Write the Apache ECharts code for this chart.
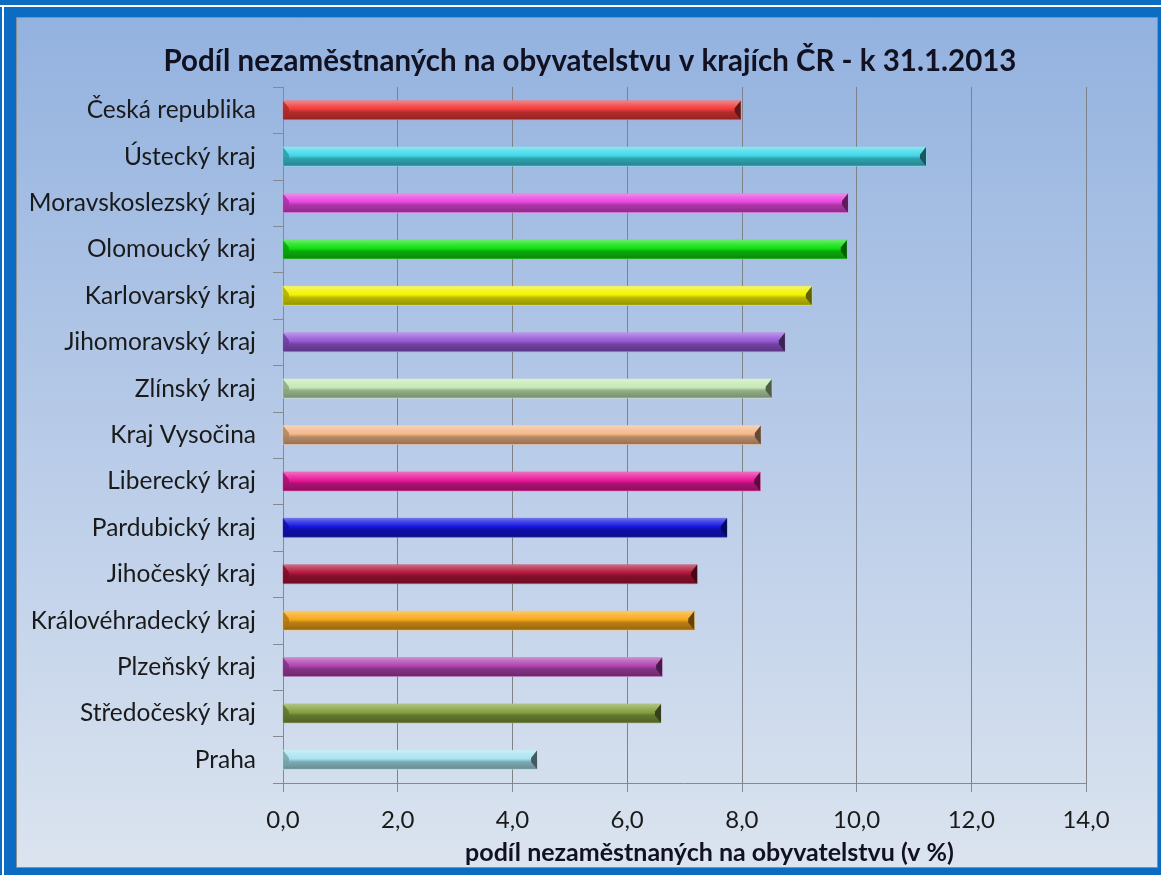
<!DOCTYPE html>
<html>
<head>
<meta charset="utf-8">
<script src="https://cdn.jsdelivr.net/npm/echarts@6/dist/echarts.min.js"></script>
<style>
  html, body { margin: 0; padding: 0; }
  #main { width: 1161px; height: 875px; }
</style>
</head>
<body>
<div id="main"></div>
<script>
// kraje (shora dolů) a podíl nezaměstnaných v %
const regions = [
  "Česká republika", "Ústecký kraj", "Moravskoslezský kraj", "Olomoucký kraj",
  "Karlovarský kraj", "Jihomoravský kraj", "Zlínský kraj", "Kraj Vysočina",
  "Liberecký kraj", "Pardubický kraj", "Jihočeský kraj", "Královéhradecký kraj",
  "Plzeňský kraj", "Středočeský kraj", "Praha"
];
const share = [7.98, 11.21, 9.85, 9.83, 9.22, 8.75, 8.52, 8.33, 8.32, 7.74, 7.22, 7.17, 6.61, 6.59, 4.43];
const xTicks = [0, 2, 4, 6, 8, 10, 12, 14];

const barColors = [
  "#f03a3a", "#3fd8e8", "#e846e0", "#10e010", "#f2f200", "#9658d8", "#c4e8b4", "#f4b888",
  "#e8189a", "#1414e0", "#b01438", "#f8a818", "#b044b0", "#84a040", "#a8e4f0"
];

function mix(hex, target, t) {
  const n = parseInt(hex.slice(1), 16);
  const r = (n >> 16) & 255, g = (n >> 8) & 255, b = n & 255;
  const m = c => Math.round(c + (target - c) * t);
  return "rgb(" + m(r) + "," + m(g) + "," + m(b) + ")";
}

const font = "Lato, 'Noto Sans', sans-serif";
const myChart = echarts.init(document.getElementById("main"));

const option = {
  backgroundColor: "#0b6cc1",
  textStyle: { fontFamily: font },
  graphic: [
    { type: "line", z: -10, shape: { x1: 0, y1: 6, x2: 1161, y2: 6 }, style: { stroke: "#ffffff", lineWidth: 2 } },
    { type: "line", z: -10, shape: { x1: 3, y1: 6, x2: 3, y2: 875 }, style: { stroke: "#ffffff", lineWidth: 2 } },
    {
      type: "rect", z: -10,
      shape: { x: 16.5, y: 17.5, width: 1141, height: 850 },
      style: {
        stroke: "#8a8f96", lineWidth: 1,
        fill: new echarts.graphic.LinearGradient(0, 0, 0, 1, [
          { offset: 0, color: "#93b2df" },
          { offset: 0.5, color: "#b8cbe8" },
          { offset: 1, color: "#dbe4ef" }
        ])
      }
    }
  ],
  title: {
    text: "Podíl nezaměstnaných na obyvatelstvu v krajích ČR - k 31.1.2013",
    left: 585, textAlign: "center", top: 41,
    textStyle: { fontFamily: font, fontSize: 29.5, fontWeight: "bold", color: "#111122" }
  },
  grid: { left: 283, right: 75, top: 87, bottom: 92 },
  xAxis: {
    type: "value", min: 0, max: 14, interval: 2,
    axisLine: { show: true, lineStyle: { color: "#858a90" } },
    axisTick: { show: true, length: 9, lineStyle: { color: "#858a90" } },
    splitLine: { show: true, lineStyle: { color: "#7f8388", width: 1 } },
    axisLabel: {
      margin: 25, fontSize: 24, color: "#1a1a1a", fontFamily: font,
      formatter: v => xTicks.includes(v) ? v.toFixed(1).replace(".", ",") : ""
    },
    name: "podíl nezaměstnaných na obyvatelstvu (v %)",
    nameLocation: "middle", nameGap: 57,
    nameTextStyle: { fontSize: 25, fontWeight: "bold", color: "#111122", fontFamily: font, padding: [0, 0, 0, 50] }
  },
  yAxis: {
    type: "category", inverse: true, data: regions,
    axisLine: { show: true, lineStyle: { color: "#858a90" } },
    axisTick: { show: true, length: 10, lineStyle: { color: "#858a90" } },
    axisLabel: { margin: 27, fontSize: 24.5, color: "#1a1a1a", fontFamily: font }
  },
  series: [
    {
      type: "custom",
      encode: { x: 0, y: 1 },
      data: share.map((v, i) => [v, i]),
      renderItem: function (params, api) {
        const idx = api.value(1);
        const p0 = api.coord([0, idx]);
        const p1 = api.coord([api.value(0), idx]);
        const h = 19;
        const x0 = p0[0], x1 = p1[0], y0 = p0[1] - h / 2, y1 = y0 + h;
        const base = barColors[idx % barColors.length];
        const w = 6;
        return {
          type: "group",
          children: [
            {
              type: "rect",
              shape: { x: x0, y: y0, width: x1 - x0, height: h },
              style: {
                fill: new echarts.graphic.LinearGradient(0, 0, 0, 1, [
                  { offset: 0, color: mix(base, 255, 0.4) },
                  { offset: 0.2, color: mix(base, 255, 0.2) },
                  { offset: 0.45, color: base },
                  { offset: 0.6, color: mix(base, 0, 0.25) },
                  { offset: 1, color: mix(base, 0, 0.4) }
                ]),
                stroke: mix(base, 255, 0.3), lineWidth: 0.6
              }
            },
            {
              type: "polygon",
              shape: { points: [[x0, y0], [x0 + w, y0 + h * 0.4], [x0 + w, y0 + h * 0.6], [x0, y1]] },
              style: { fill: mix(base, 0, 0.3), opacity: 0.8 }
            },
            {
              type: "polygon",
              shape: { points: [[x1, y0], [x1 - w, y0 + h * 0.4], [x1 - w, y0 + h * 0.6], [x1, y1]] },
              style: { fill: mix(base, 0, 0.6) }
            }
          ]
        };
      }
    }
  ]
};

myChart.setOption(option);
</script>
</body>
</html>
